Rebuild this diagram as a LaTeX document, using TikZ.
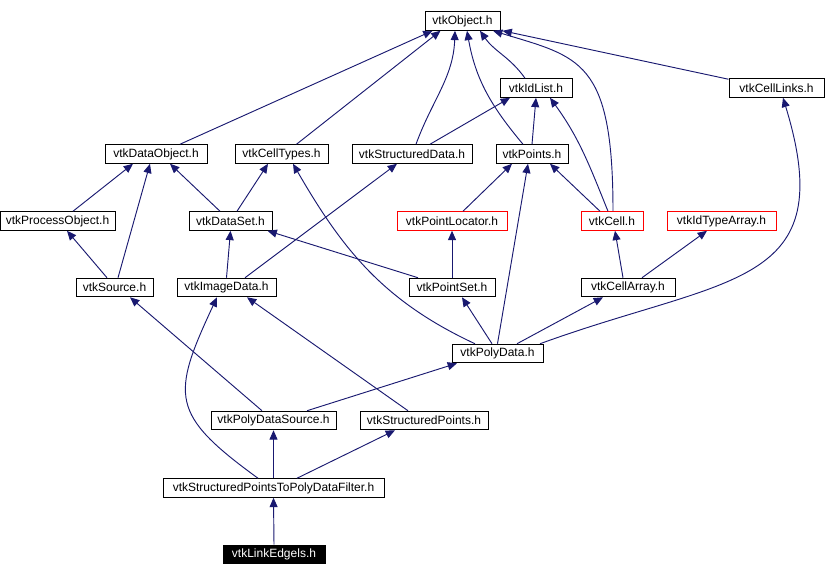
\documentclass[tikz,border=0pt]{standalone}
\usepackage{fontspec}
\setmainfont{Liberation Sans}
\usetikzlibrary{arrows.meta,calc}
\definecolor{edgeblue}{RGB}{25,25,112}

\begin{document}
\begin{tikzpicture}[x=0.75pt, y=-0.75pt, >={Triangle[length=7pt,width=6pt]},
    hdr/.style={draw, line width=0.75pt, inner sep=0pt, minimum height=13.9pt,
        font=\fontsize{9}{11}\selectfont},
    bw/.style={minimum width=#1*0.75pt},
    missing/.style={hdr, draw=red},
    self/.style={hdr, fill=black, text=white},
    dep/.style={->, draw=edgeblue, line width=0.7pt}]
    \useasboundingbox (0,0) rectangle (829,576);

    \node[hdr, bw=75] (obj) at (462.5,21) {vtkObject.h};
    \node[hdr, bw=72] (idlist) at (536,88) {vtkIdList.h};
    \node[hdr, bw=95] (celllinks) at (776.5,88) {vtkCellLinks.h};
    \node[hdr, bw=102] (dataobj) at (156,154) {vtkDataObject.h};
    \node[hdr, bw=93] (celltypes) at (281.5,154) {vtkCellTypes.h};
    \node[hdr, bw=120] (structdata) at (412,154) {vtkStructuredData.h};
    \node[hdr, bw=72] (points) at (532,154) {vtkPoints.h};
    \node[hdr, bw=115] (procobj) at (57.5,221) {vtkProcessObject.h};
    \node[hdr, bw=83] (dataset) at (230.5,221) {vtkDataSet.h};
    \node[missing, bw=110] (locator) at (452,221) {vtkPointLocator.h};
    \node[missing, bw=62] (cell) at (612,221) {vtkCell.h};
    \node[missing, bw=109] (idtype) at (721.5,221) {vtkIdTypeArray.h};
    \node[hdr, bw=77] (source) at (114.5,287.5) {vtkSource.h};
    \node[hdr, bw=99] (imagedata) at (226.5,287.5) {vtkImageData.h};
    \node[hdr, bw=86] (pointset) at (452,287.5) {vtkPointSet.h};
    \node[hdr, bw=94] (cellarray) at (628,287.5) {vtkCellArray.h};
    \node[hdr, bw=91] (polydata) at (497.5,353.5) {vtkPolyData.h};
    \node[hdr, bw=125] (pdsource) at (273.5,420.5) {vtkPolyDataSource.h};
    \node[hdr, bw=128] (structpts) at (424,420.5) {vtkStructuredPoints.h};
    \node[hdr, bw=221] (filter) at (273.5,488) {vtkStructuredPointsToPolyDataFilter.h};
    \node[self, bw=102] (edgels) at (274,554.5) {vtkLinkEdgels.h};

    % includes of vtkObject.h
    \draw[dep] ($(dataobj.north)+(24,0)$) -- ($(obj.south)+(-30,0)$);
    \draw[dep] ($(celltypes.north)+(15,0)$) -- ($(obj.south)+(-22,0)$);
    \draw[dep] ($(structdata.north)+(4,0)$) to[out=70,in=-92] ($(obj.south)+(-7.5,0)$);
    \draw[dep] ($(points.north)+(-9,0)$) to[out=130,in=-80] ($(obj.south)+(4.5,0)$);
    \draw[dep] ($(idlist.north)+(-11,0)$) to[out=125,in=-55] ($(obj.south)+(17.5,0)$);
    \draw[dep] ($(cell.north)+(1,0)$) to[out=90,in=-17,out distance=114pt,in distance=68pt] ($(obj.south)+(30.5,0)$);
    \draw[dep] ($(celllinks.north west)+(0,1)$) -- ($(obj.south east)+(2,0)$);

    \draw[dep] ($(structdata.north)+(18,0)$) -- ($(idlist.south)+(-26,0)$);
    \draw[dep] (points.north) -- (idlist.south);
    \draw[dep] ($(cell.north)+(-4,0)$) to[out=112,in=-54] ($(idlist.south)+(14,0)$);
    \draw[dep] ($(polydata.north)+(42.5,0)$) to[out=20,in=-73,out distance=150pt,in distance=150pt] ($(celllinks.south)+(6.5,0)$);

    \draw[dep] ($(procobj.north)+(15.5,0)$) -- ($(dataobj.south)+(-23,0)$);
    \draw[dep] ($(source.north)+(3.5,0)$) -- ($(dataobj.south)+(-6,0)$);
    \draw[dep] ($(dataset.north)+(-10.5,0)$) -- ($(dataobj.south)+(14,0)$);
    \draw[dep] ($(dataset.north)+(6.5,0)$) -- ($(celltypes.south)+(-13.5,0)$);
    \draw[dep] ($(polydata.north)+(-22.5,0)$) to[out=155,in=-60] ($(celltypes.south)+(11.5,0)$);
    \draw[dep] ($(imagedata.north)+(18.5,0)$) -- ($(structdata.south)+(-15,0)$);

    \draw[dep] ($(locator.north)+(11,0)$) -- ($(points.south)+(-20,0)$);
    \draw[dep] (polydata.north) -- ($(points.south)+(-4,0)$);
    \draw[dep] ($(cell.north)+(-12,0)$) -- ($(points.south)+(18,0)$);

    \draw[dep] ($(source.north)+(-7.5,0)$) -- ($(procobj.south)+(9.5,0)$);
    \draw[dep] (imagedata.north) -- (dataset.south);
    \draw[dep] ($(pointset.north)+(-34,0)$) -- ($(dataset.south)+(37,0)$);
    \draw[dep] (pointset.north) -- (locator.south);
    \draw[dep] ($(cellarray.north)+(-5,0)$) -- ($(cell.south)+(3,0)$);
    \draw[dep] ($(cellarray.north)+(14,0)$) -- ($(idtype.south)+(-14.5,0)$);

    \draw[dep] ($(pdsource.north)+(-11.5,0)$) -- ($(source.south)+(15.5,0)$);
    \draw[dep] ($(structpts.north)+(-16,0)$) -- ($(imagedata.south)+(20.5,0)$);
    \draw[dep] ($(filter.north)+(-15.5,0)$) to[out=144,in=-115,looseness=1.5] ($(imagedata.south)+(-9.5,0)$);
    \draw[dep] ($(polydata.north)+(-5.5,0)$) -- ($(pointset.south)+(10,0)$);
    \draw[dep] ($(polydata.north)+(19.5,0)$) -- ($(cellarray.south)+(-25,0)$);

    \draw[dep] ($(pdsource.north)+(33.5,0)$) -- ($(polydata.south)+(-40.5,0)$);
    \draw[dep] (filter.north) -- (pdsource.south);
    \draw[dep] ($(filter.north)+(23.5,0)$) -- ($(structpts.south)+(-29,0)$);
    \draw[dep] (edgels.north) -- (filter.south);
\end{tikzpicture}
\end{document}
